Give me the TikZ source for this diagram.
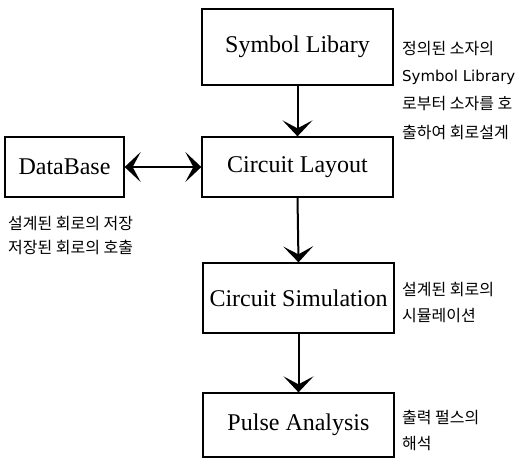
\documentclass[tikz,border=0pt]{standalone}
\usepackage{fontspec}
\setmainfont{Liberation Serif}
\newfontfamily\kr{Noto Sans CJK KR}
\newfontfamily\lat{DejaVu Sans}
\usetikzlibrary{arrows.meta}
\begin{document}
\begin{tikzpicture}[x=1pt,y=-1pt,
  blk/.style={draw,line width=1.3pt,inner sep=0pt,font=\fontsize{24}{28}\selectfont},
  note/.style={anchor=west,inner sep=0pt,font=\kr\fontsize{16}{19}\selectfont},
  tip/.tip={Stealth[length=16pt,width=30pt,inset=8pt]},
  flow/.style={line width=2pt,-tip},
  both/.style={line width=2pt,tip-tip}]
\useasboundingbox (0,0) rectangle (525,467);
\node[blk,minimum width=191pt,minimum height=76pt] (sym) at (297.5,47) {Symbol Libary};
\node[blk,minimum width=191pt,minimum height=60pt] (lay) at (297.5,167) {Circuit Layout};
\node[blk,minimum width=119pt,minimum height=60pt] (db) at (64.5,167) {DataBase};
\node[blk,minimum width=191pt,minimum height=70pt] (sim) at (298.5,298) {Circuit Simulation};
\node[blk,minimum width=191pt,minimum height=64pt] (pul) at (298.5,425) {Pulse Analysis};
\draw[flow] (sym.south) -- (lay.north);
\draw[flow] (lay.south) -- (sim.north);
\draw[flow] (sim.south) -- (pul.north);
\draw[both] (db.east) -- (lay.west);
\node[note] (n1) at (402,49) {정의된 소자의};
\node[note,font=\lat\fontsize{15}{18}\selectfont] (n2) at (402,77) {Symbol Library};
\node[note] (n3) at (402,104) {로부터 소자를 호};
\node[note] (n4) at (402,132) {출하여 회로설계};
\node[note] (d1) at (8,224) {설계된 회로의 저장};
\node[note] (d2) at (8,247) {저장된 회로의 호출};
\node[note] (s1) at (402,290) {설계된 회로의};
\node[note] (s2) at (402,316) {시뮬레이션};
\node[note] (p1) at (402,417) {출력 펄스의};
\node[note] (p2) at (402,443) {해석};
\end{tikzpicture}
\end{document}
